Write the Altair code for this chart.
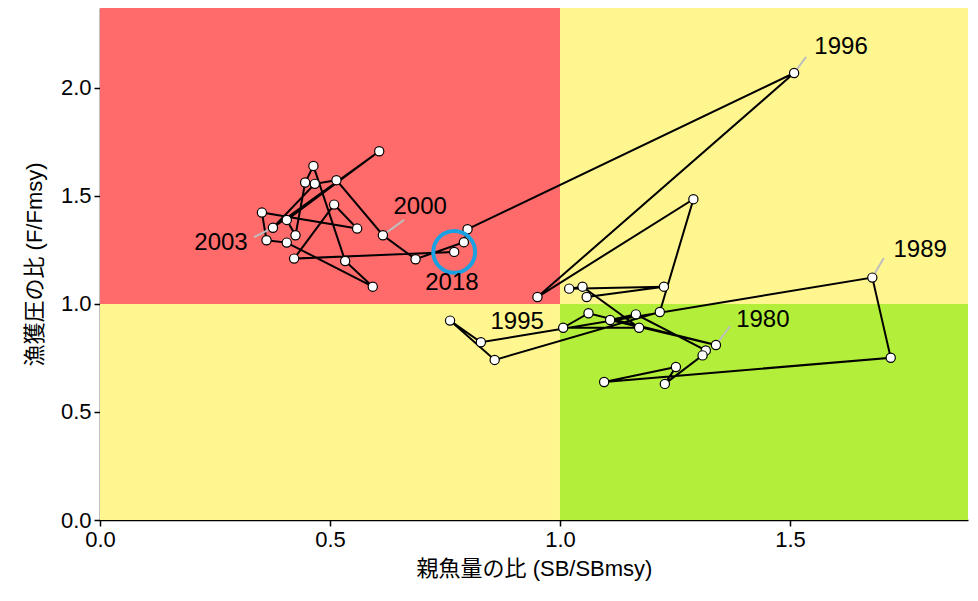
import altair as alt
import pandas as pd

# trajectory (SB/SBmsy, F/Fmsy) in time order
years = list(range(1973, 2017)) + [2018]
sb = [1.058, 1.226, 1.020, 1.049, 1.172, 1.007, 1.062, 1.339, 1.109, 1.165,
      1.317, 1.310, 1.228, 1.252, 1.096, 1.719, 1.679, 0.828, 0.761, 0.858,
      1.217, 1.290, 0.951, 1.509,
      0.799, 0.791, 0.686, 0.615, 0.514, 0.467, 0.376,
      0.607, 0.406, 0.425, 0.446, 0.464, 0.533, 0.593, 0.406, 0.362,
      0.352, 0.559, 0.509, 0.422, 0.770]
ff = [1.032, 1.080, 1.071, 1.080, 0.890, 0.890, 0.957, 0.810, 0.926, 0.952,
      0.785, 0.762, 0.630, 0.708, 0.639, 0.751, 1.122, 0.823, 0.923, 0.741,
      0.963, 1.485, 1.032, 2.069,
      1.346, 1.286, 1.207, 1.318, 1.573, 1.556, 1.353,
      1.707, 1.389, 1.318, 1.562, 1.639, 1.199, 1.080, 1.284, 1.295,
      1.423, 1.349, 1.460, 1.210, 1.241]

label_years = [1980, 1989, 1995, 1996, 2000, 2003, 2018]
label_tx = [1.441, 1.783, 0.907, 1.611, 0.696, 0.263, 0.765]
label_ty = [0.926, 1.250, 0.917, 2.190, 1.449, 1.282, 1.097]
leader_x2 = [1.370, 1.704, None, 1.535, 0.661, 0.335, None]
leader_y2 = [0.898, 1.213, None, 2.144, 1.389, 1.310, None]

XMAX = 1.887
YMAX = 2.370

df = pd.DataFrame({"year": years, "sb": sb, "f": ff})
pos = {y: (x, v) for y, x, v in zip(years, sb, ff)}

lab = pd.DataFrame({
    "text": [str(y) for y in label_years],
    "tx": label_tx, "ty": label_ty,
})
lead_rows = []
for y, x2, y2 in zip(label_years, leader_x2, leader_y2):
    if x2 is not None:
        px, py = pos[y]
        lead_rows.append({"x": px, "y": py, "x2": x2, "y2": y2})
lead = pd.DataFrame(lead_rows)

bg = pd.DataFrame({
    "x": [0, 1, 0, 1], "x2": [1, XMAX, 1, XMAX],
    "y": [1, 1, 0, 0], "y2": [YMAX, YMAX, 1, 1],
    "c": ["#FF6A6A", "#FFF68F", "#FFF68F", "#B3EE3A"],
})

xs = alt.Scale(domain=[0, XMAX], nice=False, zero=False)
ys = alt.Scale(domain=[0, YMAX], nice=False, zero=False)

xax = alt.Axis(values=[0, 0.5, 1.0, 1.5], format=".1f", title="親魚量の比 (SB/SBmsy)")
yax = alt.Axis(values=[0, 0.5, 1.0, 1.5, 2.0], format=".1f", title="漁獲圧の比 (F/Fmsy)")

rects = alt.Chart(bg).mark_rect(opacity=1).encode(
    x=alt.X("x:Q", scale=xs, axis=xax),
    x2="x2:Q",
    y=alt.Y("y:Q", scale=ys, axis=yax),
    y2="y2:Q",
    color=alt.Color("c:N", scale=None),
)

line = alt.Chart(df).mark_line(color="black", strokeWidth=2).encode(
    x=alt.X("sb:Q", scale=xs),
    y=alt.Y("f:Q", scale=ys),
    order="year:Q",
)

leaders = alt.Chart(lead).mark_rule(color="#BEBEBE", strokeWidth=2).encode(
    x=alt.X("x:Q", scale=xs), y=alt.Y("y:Q", scale=ys), x2="x2:Q", y2="y2:Q"
)

pts = alt.Chart(df).mark_point(filled=True, fill="white", stroke="black",
                               strokeWidth=1.2, size=85, opacity=1,
                               shape="circle").encode(
    x=alt.X("sb:Q", scale=xs),
    y=alt.Y("f:Q", scale=ys),
)

last = alt.Chart(df[df.year == max(years)]).mark_point(
    shape="circle", filled=False, stroke="#1BA1E2", strokeWidth=4,
    size=1750, opacity=1).encode(
    x=alt.X("sb:Q", scale=xs),
    y=alt.Y("f:Q", scale=ys),
)

texts = alt.Chart(lab).mark_text(fontSize=24, color="black", align="center",
                                 baseline="middle", font="Liberation Sans").encode(
    x=alt.X("tx:Q", scale=xs), y=alt.Y("ty:Q", scale=ys), text="text:N"
)

chart = alt.layer(rects, line, leaders, pts, last, texts).properties(
    width=868, height=512,
    autosize=alt.AutoSizeParams(type="none"),
    padding={"left": 92, "top": 0, "right": 2, "bottom": 72},
).configure_view(stroke=None).configure_axis(
    grid=False,
    domainColor="black", domainWidth=1.5,
    tickColor="black", tickWidth=1.5, tickSize=6,
    labelColor="black", labelFontSize=22, labelFont="Liberation Sans",
    labelFlush=False,
    titleColor="black", titleFontSize=22, titleFontWeight="normal",
    titleFont="Liberation Sans, Noto Sans CJK JP",
    labelPadding=3,
).configure_axisX(titlePadding=8).configure_axisY(titlePadding=14)

chart.save("out.html", embed_options={"renderer": "svg", "actions": False})
